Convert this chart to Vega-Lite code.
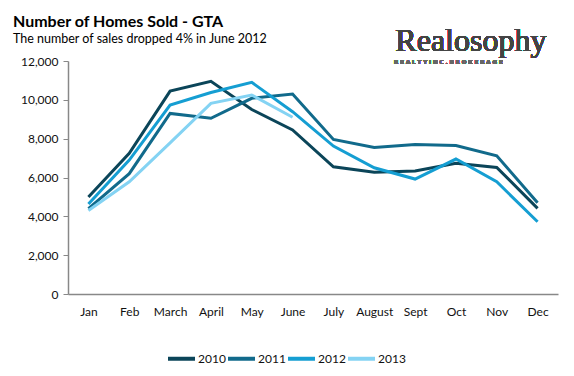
{
  "$schema": "https://vega.github.io/schema/vega-lite/v6.json",
  "autosize": "none",
  "width": 490,
  "height": 233,
  "padding": {"left": 68, "top": 61, "right": 16, "bottom": 82},
  "background": "white",
  "config": {
    "view": {"stroke": null},
    "font": "Lato",
    "axis": {"labelFont": "Lato", "labelFontSize": 12, "labelColor": "#111", "domainColor": "#888", "tickColor": "#888", "grid": false, "title": null},
    "axisY": {"format": ",d", "labelOverlap": false, "values": [0, 2000, 4000, 6000, 8000, 10000, 12000], "tickSize": 5, "labelPadding": 5, "domainWidth": 1.5},
    "axisX": {"labelAngle": 0, "ticks": false, "labelPadding": 12, "domainWidth": 1.5}
  },
  "title": {
    "text": "Number of Homes Sold - GTA",
    "subtitle": "The number of sales dropped 4% in June 2012",
    "anchor": "start",
    "frame": "group",
    "dx": -55,
    "offset": -20,
    "font": "Lato",
    "fontSize": 16,
    "fontWeight": "bold",
    "color": "#000",
    "subtitleFont": "Lato",
    "subtitleFontSize": 12.5,
    "subtitleColor": "#000",
    "subtitlePadding": 3
  },
  "data": {
    "values": [
      {"month": "Jan", "year": "2010", "sales": 5000},
      {"month": "Feb", "year": "2010", "sales": 7250},
      {"month": "March", "year": "2010", "sales": 10450},
      {"month": "April", "year": "2010", "sales": 10950},
      {"month": "May", "year": "2010", "sales": 9500},
      {"month": "June", "year": "2010", "sales": 8450},
      {"month": "July", "year": "2010", "sales": 6550},
      {"month": "August", "year": "2010", "sales": 6270},
      {"month": "Sept", "year": "2010", "sales": 6330},
      {"month": "Oct", "year": "2010", "sales": 6730},
      {"month": "Nov", "year": "2010", "sales": 6520},
      {"month": "Dec", "year": "2010", "sales": 4410},
      {"month": "Jan", "year": "2011", "sales": 4400},
      {"month": "Feb", "year": "2011", "sales": 6200},
      {"month": "March", "year": "2011", "sales": 9300},
      {"month": "April", "year": "2011", "sales": 9050},
      {"month": "May", "year": "2011", "sales": 10080},
      {"month": "June", "year": "2011", "sales": 10300},
      {"month": "July", "year": "2011", "sales": 7960},
      {"month": "August", "year": "2011", "sales": 7550},
      {"month": "Sept", "year": "2011", "sales": 7700},
      {"month": "Oct", "year": "2011", "sales": 7650},
      {"month": "Nov", "year": "2011", "sales": 7120},
      {"month": "Dec", "year": "2011", "sales": 4700},
      {"month": "Jan", "year": "2012", "sales": 4630},
      {"month": "Feb", "year": "2012", "sales": 6900},
      {"month": "March", "year": "2012", "sales": 9730},
      {"month": "April", "year": "2012", "sales": 10380},
      {"month": "May", "year": "2012", "sales": 10900},
      {"month": "June", "year": "2012", "sales": 9390},
      {"month": "July", "year": "2012", "sales": 7620},
      {"month": "August", "year": "2012", "sales": 6500},
      {"month": "Sept", "year": "2012", "sales": 5920},
      {"month": "Oct", "year": "2012", "sales": 6950},
      {"month": "Nov", "year": "2012", "sales": 5780},
      {"month": "Dec", "year": "2012", "sales": 3720},
      {"month": "Jan", "year": "2013", "sales": 4300},
      {"month": "Feb", "year": "2013", "sales": 5780},
      {"month": "March", "year": "2013", "sales": 7780},
      {"month": "April", "year": "2013", "sales": 9820},
      {"month": "May", "year": "2013", "sales": 10250},
      {"month": "June", "year": "2013", "sales": 9100}
    ]
  },
  "layer": [
    {
      "mark": {"type": "line", "strokeWidth": 3},
      "encoding": {
        "x": {
          "field": "month", "type": "ordinal",
          "sort": ["Jan", "Feb", "March", "April", "May", "June", "July", "August", "Sept", "Oct", "Nov", "Dec"],
          "scale": {"type": "point", "padding": 0.5}
        },
        "y": {
          "field": "sales", "type": "quantitative",
          "scale": {"domain": [0, 12000], "nice": false}
        },
        "color": {
          "field": "year", "type": "nominal",
          "scale": {"domain": ["2010", "2011", "2012", "2013"], "range": ["#0b4559", "#116a8b", "#159ed2", "#84d3f3"]},
          "legend": {
            "title": null, "orient": "none", "direction": "horizontal", "legendX": 98, "legendY": 282,
            "symbolType": "stroke", "symbolSize": 729, "symbolStrokeWidth": 4,
            "labelFont": "Lato", "labelFontSize": 12, "labelColor": "#111", "labelOffset": 1, "columnPadding": -6
          }
        }
      }
    },
    {
      "mark": {"type": "text", "font": "Liberation Serif", "fontSize": 32, "color": "#444", "align": "center", "baseline": "alphabetic", "dx": 15},
      "encoding": {
        "x": {"datum": "Oct"},
        "y": {"datum": 12500},
        "text": {"value": "Realosophy"}
      }
    },
    {
      "mark": {"type": "text", "font": "DejaVu Sans", "fontSize": 5.5, "fontWeight": "bold", "color": "#666", "align": "left", "baseline": "alphabetic", "dx": -21},
      "encoding": {
        "x": {"datum": "Sept"},
        "y": {"datum": 11850},
        "text": {"value": "R E A L T Y  I N C .  B R O K E R A G E"}
      }
    }
  ]
}
